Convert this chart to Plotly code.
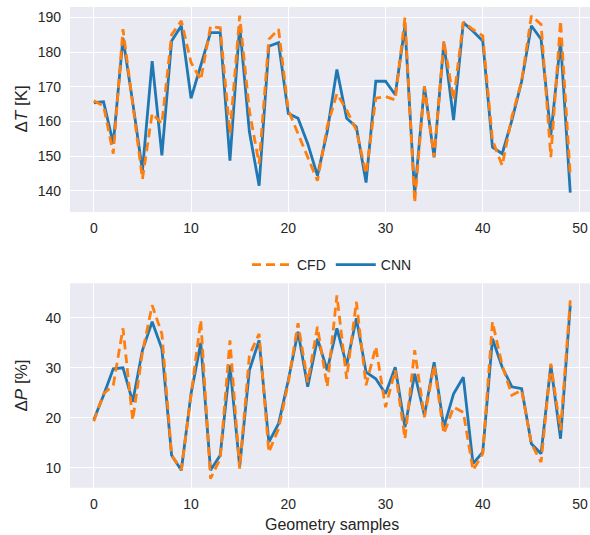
import plotly.graph_objects as go

samples = list(range(50))

dT_cnn = [165.4, 165.7, 153.6, 184.0, 165.5, 145.8, 177.4, 150.2, 183.2, 187.6,
          166.7, 176.0, 185.6, 185.6, 148.7, 187.6, 157.0, 141.5, 181.7, 182.7,
          162.3, 160.9, 153.6, 144.4, 157.0, 175.0, 160.9, 158.4, 142.4, 171.6,
          171.6, 167.7, 187.6, 139.0, 170.1, 149.7, 182.7, 160.4, 188.5, 186.0,
          183.2, 152.6, 150.7, 160.4, 171.6, 187.6, 183.7, 156.0, 183.2, 139.5]
dT_cfd = [166.0, 164.5, 150.7, 186.6, 165.0, 143.4, 162.3, 159.4, 185.0, 189.0,
          177.0, 172.0, 187.4, 187.0, 156.5, 190.5, 163.0, 147.8, 183.7, 186.6,
          163.3, 156.5, 149.7, 142.9, 158.5, 168.0, 163.3, 157.5, 144.9, 166.7,
          167.2, 166.2, 190.0, 136.6, 170.1, 149.7, 183.2, 166.2, 188.7, 186.5,
          184.7, 154.6, 147.3, 161.4, 171.6, 190.5, 188.0, 149.7, 189.0, 144.5]

dP_cnn = [19.6, 24.5, 29.8, 30.0, 23.2, 33.5, 39.2, 33.8, 12.5, 9.5,
          24.8, 35.0, 9.5, 12.5, 30.5, 10.2, 29.5, 35.5, 15.1, 18.8,
          27.5, 37.2, 26.2, 35.8, 29.5, 37.9, 30.5, 39.9, 29.1, 27.8,
          24.8, 30.1, 18.1, 28.8, 20.5, 31.1, 18.1, 24.8, 28.1, 10.8,
          13.1, 35.8, 30.1, 26.2, 25.8, 14.8, 12.8, 30.5, 15.8, 42.5]
dP_cfd = [19.3, 24.8, 26.5, 37.9, 19.5, 33.1, 42.5, 36.8, 12.5, 9.6,
          24.5, 39.5, 7.8, 11.8, 35.5, 9.8, 32.5, 36.8, 13.1, 17.8,
          27.0, 38.9, 27.1, 38.2, 26.2, 44.5, 27.8, 43.2, 26.5, 34.2,
          22.1, 29.5, 15.8, 33.5, 20.1, 30.5, 16.8, 22.1, 21.1, 9.5,
          12.8, 39.2, 30.5, 24.5, 25.5, 14.8, 11.1, 30.8, 17.5, 43.5]

BLUE = "#1f77b4"
ORANGE = "#ff7f0e"
BG = "#EAEAF2"
TXT = "#262626"
FONT = "Liberation Sans, Arial, sans-serif"

W, H = 590, 535
def py(px):
    return (H - px) / H

fig = go.Figure()

# top
fig.add_trace(go.Scatter(x=samples, y=dT_cnn, mode="lines", name="CNN",
                         line=dict(color=BLUE, width=2.8), xaxis="x", yaxis="y",
                         legendrank=2))
fig.add_trace(go.Scatter(x=samples, y=dT_cfd, mode="lines", name="CFD",
                         line=dict(color=ORANGE, width=2.8, dash="9px,5px"),
                         xaxis="x", yaxis="y", legendrank=1))
# bottom
fig.add_trace(go.Scatter(x=samples, y=dP_cnn, mode="lines", name="CNN",
                         line=dict(color=BLUE, width=2.8), xaxis="x2", yaxis="y2",
                         showlegend=False))
fig.add_trace(go.Scatter(x=samples, y=dP_cfd, mode="lines", name="CFD",
                         line=dict(color=ORANGE, width=2.8, dash="9px,5px"),
                         xaxis="x2", yaxis="y2", showlegend=False))

xdom = [70 / W, 1.0]
xrange = [-2.45, 51.03]
axcommon = dict(showgrid=True, gridcolor="white", gridwidth=1.3, zeroline=False,
                showline=False, ticks="", tickfont=dict(size=14, color=TXT, family=FONT))

fig.update_layout(
    width=W, height=H,
    margin=dict(l=0, r=0, t=0, b=0),
    paper_bgcolor="white", plot_bgcolor=BG,
    font=dict(family=FONT, color=TXT),
    xaxis=dict(domain=xdom, range=xrange, anchor="y", tickvals=[0, 10, 20, 30, 40, 50],
               ticklabelstandoff=6, **axcommon),
    yaxis=dict(domain=[py(212), py(7)], range=[133.9, 193.0], anchor="x",
               tickvals=[140, 150, 160, 170, 180, 190], ticklabelstandoff=8, **axcommon),
    xaxis2=dict(domain=xdom, range=xrange, anchor="y2", tickvals=[0, 10, 20, 30, 40, 50],
                ticklabelstandoff=6, **axcommon),
    yaxis2=dict(domain=[py(487.7), py(283.3)], range=[6.0, 46.9], anchor="x2",
                tickvals=[10, 20, 30, 40], ticklabelstandoff=8, **axcommon),
    legend=dict(orientation="h", x=332 / W, xanchor="center", y=py(265), yanchor="middle",
                font=dict(size=14, color=TXT, family=FONT), bgcolor="rgba(0,0,0,0)",
                itemwidth=40, tracegroupgap=0),
    annotations=[
        dict(text="Δ<i>T</i> [K]", x=21 / W, y=py(109.5), xref="paper", yref="paper",
             textangle=-90, showarrow=False, xanchor="center", yanchor="middle",
             font=dict(size=17, color=TXT, family=FONT)),
        dict(text="Δ<i>P</i> [%]", x=21 / W, y=py(385.5), xref="paper", yref="paper",
             textangle=-90, showarrow=False, xanchor="center", yanchor="middle",
             font=dict(size=17, color=TXT, family=FONT)),
        dict(text="Geometry samples", x=332 / W, y=py(524), xref="paper", yref="paper",
             showarrow=False, xanchor="center", yanchor="middle",
             font=dict(size=16, color=TXT, family=FONT)),
    ],
)

fig.write_html("out.html", config={"displayModeBar": False},
               post_script="document.body.style.margin='0';document.body.style.overflow='hidden';")
